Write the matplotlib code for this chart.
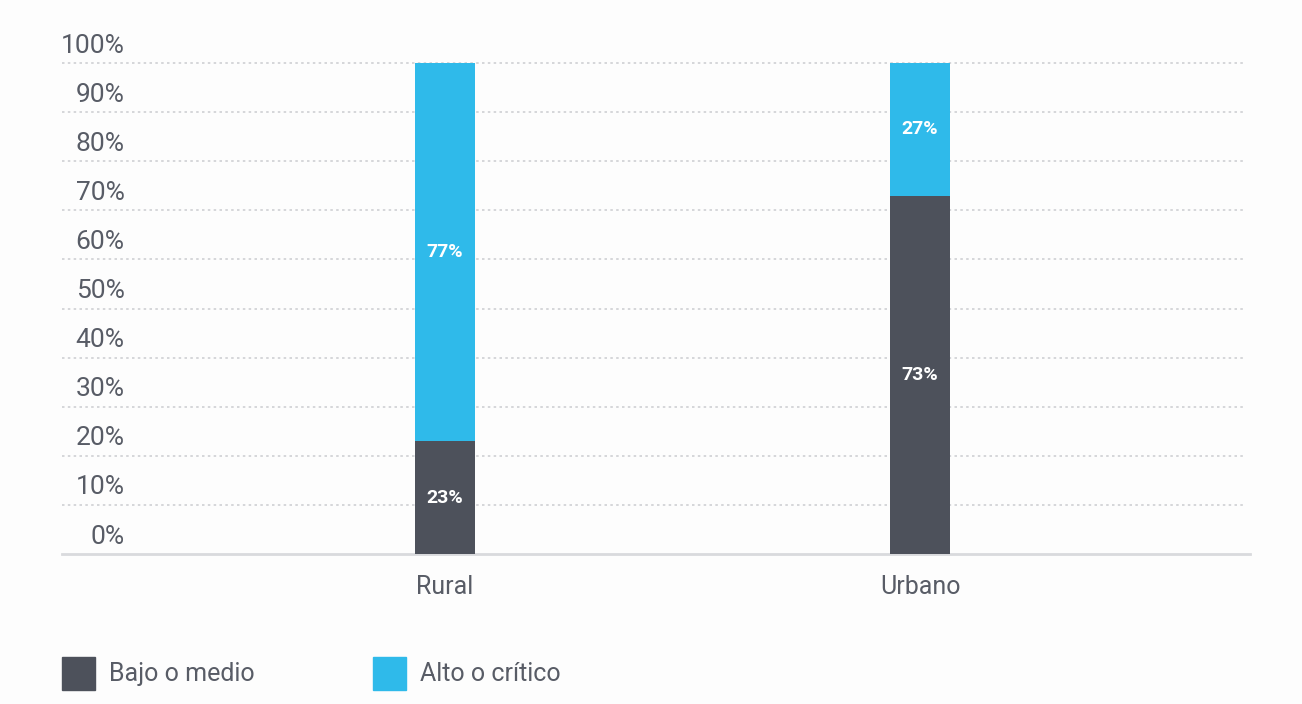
import matplotlib
matplotlib.use("Agg")
import matplotlib.pyplot as plt
import matplotlib.transforms as mtransforms
from matplotlib.patches import Rectangle

categories = ["Rural", "Urbano"]
bajo_medio = [23, 73]
alto_critico = [77, 27]
series_names = ["Bajo o medio", "Alto o crítico"]
yticks = [0, 10, 20, 30, 40, 50, 60, 70, 80, 90, 100]

DARK = "#4d515b"
BLUE = "#2fbaea"
TEXT = "#585c66"

plt.rcParams["font.family"] = ["Roboto", "DejaVu Sans"]

fig = plt.figure(figsize=(13.02, 7.04), dpi=100, facecolor="#fdfdfd")
ax = fig.add_axes([62 / 1302, 1 - 554 / 704, (1250 - 62) / 1302, (554 - 63) / 704])
ax.set_facecolor("#fdfdfd")

x = list(range(len(categories)))
width = 60 / 475
ax.bar(x, bajo_medio, width, color=DARK, zorder=3)
ax.bar(x, alto_critico, width, bottom=bajo_medio, color=BLUE, zorder=3)

for i in x:
    ax.text(i, bajo_medio[i] / 2, f"{bajo_medio[i]}%", ha="center", va="center",
            color="white", fontsize=14, fontweight="bold", zorder=4)
    ax.text(i, bajo_medio[i] + alto_critico[i] / 2, f"{alto_critico[i]}%", ha="center",
            va="center", color="white", fontsize=14, fontweight="bold", zorder=4)

ax.set_xlim(-383 / 475, 1 + 330 / 475)
ax.set_ylim(0, 100)

# dotted grid, stopping a bit short of the right edge
for t in yticks[1:]:
    ax.plot([-383 / 475, 1 + 325 / 475], [t, t], color="#cfd0d3", lw=1.2,
            ls=(0, (1.5, 2)), zorder=1, clip_on=False)

for s in ["top", "right", "left"]:
    ax.spines[s].set_visible(False)
ax.spines["bottom"].set_color("#d9dadd")
ax.spines["bottom"].set_linewidth(2)

ax.set_xticks(x)
ax.set_xticklabels(categories, fontsize=18, color=TEXT)
ax.tick_params(axis="x", length=0, pad=15)

ax.set_yticks(yticks)
ax.set_yticklabels([f"{t}%" for t in yticks], fontsize=19, color=TEXT, ha="right")
ax.tick_params(axis="y", length=0, pad=-45)
offset = mtransforms.ScaledTranslation(0, 20 / 100, fig.dpi_scale_trans)
for lbl in ax.get_yticklabels():
    lbl.set_transform(lbl.get_transform() + offset)

# legend
for i, (name, col) in enumerate(zip(series_names, [DARK, BLUE])):
    x0 = [62, 373][i]
    fig.patches.append(Rectangle((x0 / 1302, 1 - 690 / 704), 33 / 1302, 33 / 704,
                                 transform=fig.transFigure, color=col))
    fig.text((x0 + 47) / 1302, 1 - 674 / 704, name, fontsize=18, color=TEXT,
             va="center", ha="left")

fig.savefig("out.png", dpi=100, facecolor=fig.get_facecolor())
